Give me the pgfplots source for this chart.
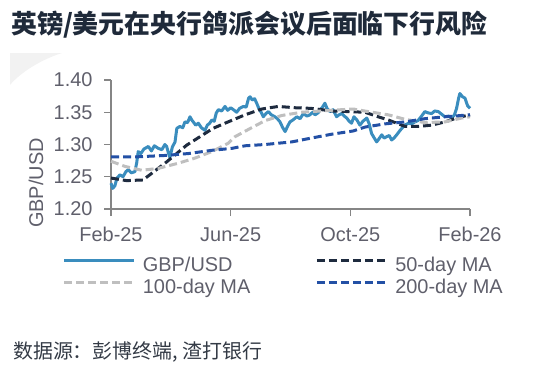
\documentclass[border=0pt]{standalone}
\usepackage{pgfplots}
\pgfplotsset{compat=1.18}
\usepackage{fontspec}
\setmainfont{Liberation Sans}
\newfontfamily\cjk{Noto Sans CJK SC}
\definecolor{gbp}{HTML}{3A8DBE}
\definecolor{maA}{HTML}{1E2B3F}
\definecolor{maB}{HTML}{BFBFBF}
\definecolor{maC}{HTML}{2350A5}
\definecolor{axisgray}{HTML}{858585}
\definecolor{ticktext}{HTML}{5F5F6B}
\definecolor{titlecol}{HTML}{1F2A3A}
\definecolor{srccol}{HTML}{333A45}
\begin{document}
\begin{tikzpicture}[x=1bp,y=1bp]
\path[use as bounding box] (0,0) rectangle (540,378);
\fill[black!5] (10,325) -- (62,325) .. controls (40,318) and (20,305) .. (10,293) -- cycle;
\node[anchor=west, font=\cjk\bfseries\fontsize{26}{31}\selectfont, text=titlecol, inner sep=0] at (11,353) {英镑/美元在央行鸽派会议后面临下行风险};
\node[anchor=west, font=\cjk\fontsize{20}{24}\selectfont, text=srccol, inner sep=0] at (13,26) {数据源：彭博终端, 渣打银行};
\node[rotate=90, font=\fontsize{20}{24}\selectfont, text=ticktext, inner sep=0] at (36,195) {GBP/USD};
\begin{axis}[
  at={(111bp,169bp)}, anchor=south west,
  width=359bp, height=129bp, scale only axis,
  xmin=0, xmax=12, ymin=1.2, ymax=1.4,
  axis x line*=bottom, axis y line*=left,
  axis line style={axisgray, line width=1.2bp},
  tick style={axisgray, line width=1.2bp},
  tick align=outside, tick pos=left,
  major tick length=7bp,
  xtick={0,4,8,12}, xticklabels={Feb-25,Jun-25,Oct-25,Feb-26},
  ytick={1.20,1.25,1.30,1.35,1.40},
  /pgf/number format/assume math mode=true,
  ticklabel style={font=\fontsize{20}{24}\selectfont, text=ticktext},
  xticklabel style={yshift=-8bp},
  yticklabel style={xshift=-8bp, /pgf/number format/.cd, fixed, fixed zerofill, precision=2},
  clip=false,
  legend columns=2,
  legend cell align=left,
  legend style={draw=none, fill=none, inner sep=0pt, outer sep=0pt,
    at={(axis description cs:-0.134,-0.378)}, anchor=north west,
    font=\fontsize{20}{24}\selectfont, text=ticktext,
    nodes={inner sep=0pt, text height=14bp, text depth=4bp},
    row sep=4bp,
    /tikz/every odd column/.append style={column sep=7bp},
    /tikz/column 2/.append style={column sep=65bp}},
  legend image code/.code={\draw[#1] (0bp,6bp) -- (70bp,6bp);},
]
\addplot[gbp, line width=3bp, line join=round] coordinates {
(0.00,1.240) (0.06,1.232) (0.13,1.236) (0.20,1.248) (0.30,1.253) (0.40,1.250) (0.50,1.258) (0.58,1.261) (0.68,1.256) (0.80,1.258) (0.86,1.272) (0.91,1.289) (1.00,1.286) (1.10,1.293) (1.25,1.297) (1.35,1.290) (1.45,1.298) (1.58,1.294) (1.70,1.292) (1.80,1.300) (1.86,1.297) (1.93,1.285) (1.97,1.280) (2.05,1.296) (2.14,1.304) (2.20,1.325) (2.30,1.328) (2.40,1.326) (2.47,1.335) (2.56,1.334) (2.64,1.343) (2.70,1.338) (2.75,1.335) (2.83,1.330) (2.92,1.333) (3.02,1.326) (3.14,1.322) (3.22,1.330) (3.30,1.333) (3.37,1.338) (3.45,1.336) (3.52,1.349) (3.59,1.354) (3.70,1.352) (3.81,1.359) (3.90,1.353) (4.00,1.357) (4.09,1.354) (4.20,1.350) (4.30,1.356) (4.42,1.359) (4.52,1.358) (4.60,1.372) (4.65,1.374) (4.72,1.369) (4.80,1.371) (4.87,1.364) (4.95,1.355) (5.02,1.350) (5.09,1.343) (5.18,1.348) (5.26,1.351) (5.36,1.346) (5.48,1.343) (5.56,1.340) (5.65,1.335) (5.73,1.327) (5.82,1.320) (5.90,1.328) (5.98,1.335) (6.08,1.338) (6.21,1.343) (6.32,1.340) (6.43,1.348) (6.55,1.344) (6.65,1.346) (6.74,1.350) (6.82,1.346) (6.92,1.349) (6.99,1.354) (7.07,1.358) (7.15,1.364) (7.22,1.356) (7.32,1.351) (7.42,1.354) (7.54,1.343) (7.62,1.346) (7.71,1.348) (7.80,1.344) (7.88,1.341) (7.96,1.336) (8.04,1.333) (8.12,1.343) (8.22,1.338) (8.32,1.330) (8.42,1.336) (8.55,1.341) (8.63,1.332) (8.71,1.317) (8.80,1.310) (8.88,1.304) (8.96,1.309) (9.05,1.315) (9.13,1.310) (9.21,1.312) (9.30,1.314) (9.38,1.307) (9.46,1.310) (9.55,1.315) (9.63,1.320) (9.72,1.325) (9.82,1.330) (9.94,1.333) (10.05,1.332) (10.16,1.335) (10.26,1.337) (10.38,1.344) (10.49,1.351) (10.60,1.349) (10.72,1.348) (10.82,1.352) (10.94,1.351) (11.05,1.347) (11.16,1.343) (11.28,1.344) (11.39,1.341) (11.48,1.346) (11.55,1.356) (11.62,1.372) (11.66,1.379) (11.75,1.374) (11.83,1.372) (11.92,1.360) (12.00,1.356)
};
\addlegendentry{GBP/USD}
\addplot[maA, line width=3bp, dash pattern=on 8bp off 4bp] coordinates {
(0.00,1.248) (0.52,1.244) (1.07,1.245) (1.86,1.273) (2.53,1.299) (3.41,1.325) (3.81,1.333) (4.48,1.346) (5.04,1.355) (5.59,1.359) (6.15,1.357) (6.70,1.356) (7.38,1.352) (7.93,1.351) (8.49,1.350) (8.93,1.343) (9.27,1.338) (9.83,1.328) (10.27,1.328) (10.72,1.330) (11.16,1.335) (11.61,1.342) (12.00,1.346)
};
\addlegendentry{50-day MA}
\addplot[maB, line width=3bp, dash pattern=on 8bp off 4bp] coordinates {
(0.00,1.274) (0.47,1.266) (1.03,1.260) (1.58,1.263) (2.25,1.271) (2.81,1.279) (3.37,1.289) (3.92,1.302) (4.14,1.312) (4.70,1.326) (5.15,1.337) (5.71,1.345) (6.37,1.350) (7.04,1.352) (7.71,1.354) (8.10,1.355) (8.60,1.351) (9.27,1.346) (9.83,1.339) (10.49,1.334) (11.16,1.335) (11.72,1.341) (12.00,1.343)
};
\addlegendentry{100-day MA}
\addplot[maC, line width=3bp, dash pattern=on 8bp off 4bp] coordinates {
(0.00,1.281) (0.91,1.281) (1.81,1.283) (2.59,1.286) (3.37,1.291) (4.04,1.294) (4.48,1.298) (5.15,1.300) (6.04,1.304) (6.70,1.310) (7.38,1.316) (8.10,1.321) (8.49,1.327) (9.16,1.332) (9.83,1.335) (10.49,1.340) (11.16,1.343) (12.00,1.346)
};
\addlegendentry{200-day MA}
\end{axis}
\end{tikzpicture}
\end{document}
